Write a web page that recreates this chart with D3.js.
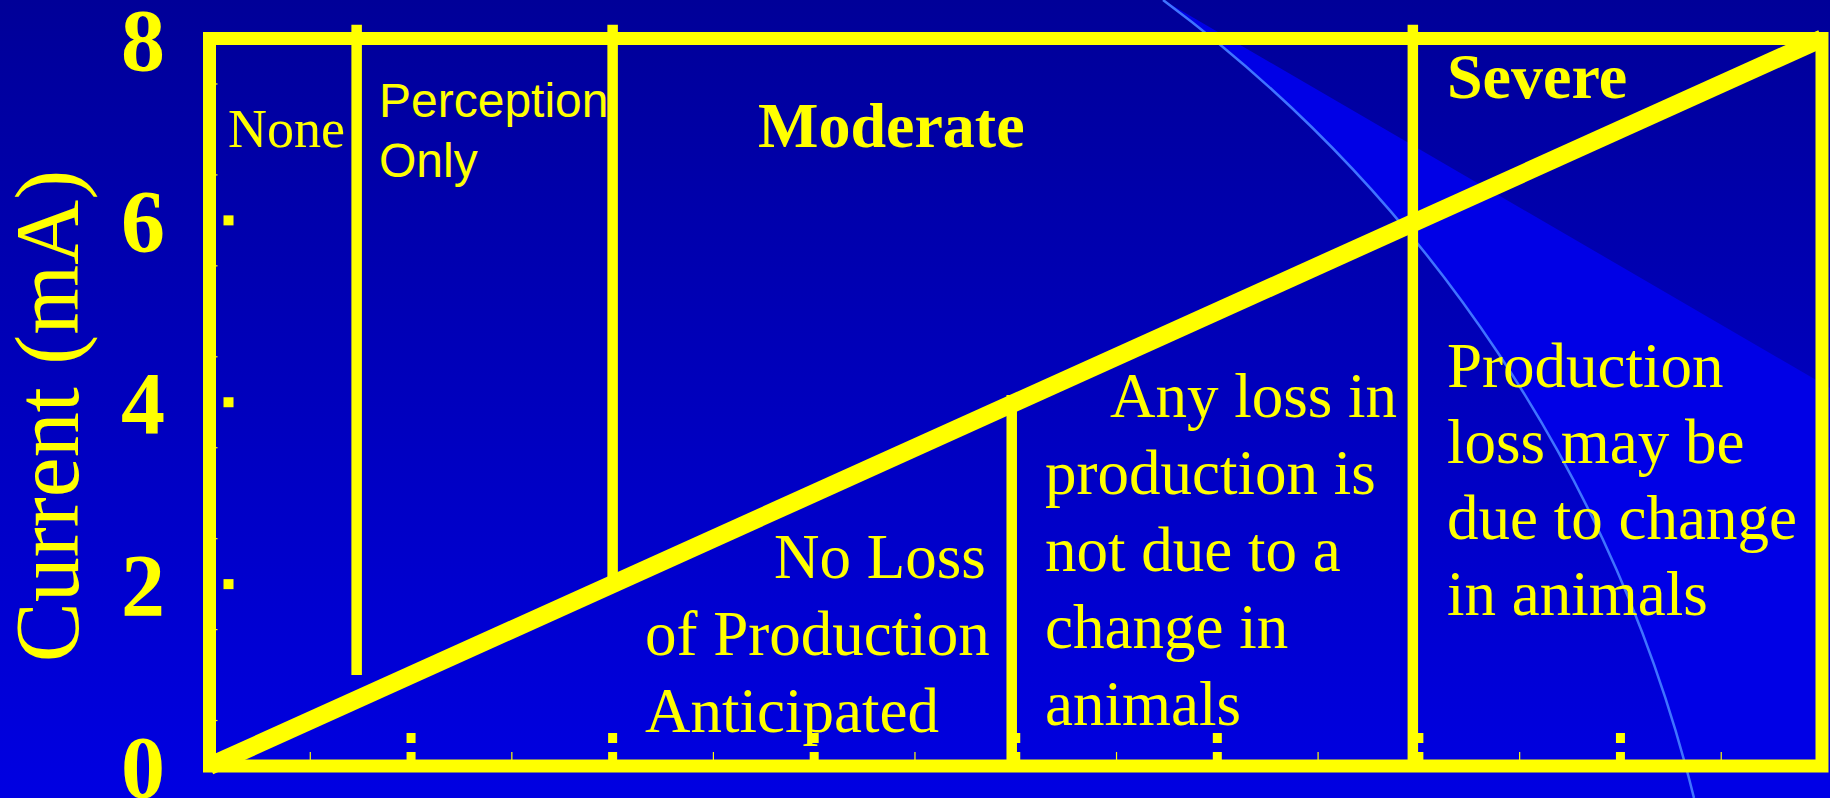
<!DOCTYPE html>
<html>
<head>
<meta charset="utf-8">
<script src="https://cdn.jsdelivr.net/npm/d3@7"></script>
<style>
  html, body { margin: 0; padding: 0; background: #0000a8; }
  svg { display: block; }
</style>
</head>
<body>
<div id="chart"></div>
<script>
// Values (chart units, current in mA)
var yTicks = [0, 2, 4, 6, 8];
var xMajorTicks = [1, 2, 3, 4, 5, 6, 7];
var xMinorTicks = [0.5, 1.5, 2.5, 3.5, 4.5, 5.5, 6.5, 7.5];
var yMinorTicks = [0.5, 1.5, 2.5, 3.5, 4.5, 5.5, 6.5, 7.5];
var yMarkTicks = [2, 4, 6];

// response line, from origin to the top right corner
var diagX = [0, 8];
var diagY = [0, 8];

// zone dividers: x position, bottom and top value
var dividerX = [0.73, 2, 3.98, 5.97];
var dividerBottom = [1, 2.05, 0, 0];
var dividerTop = [8.15, 8.15, 4.08, 8.15];

// zone labels
var noneLines = ["None"];
var perceptionLines = ["Perception", "Only"];
var moderateLines = ["Moderate"];
var severeLines = ["Severe"];
var noLossLines = ["No Loss", "of Production", "Anticipated"];
var anyLossLines = ["Any loss in", "production is", "not due to a", "change in", "animals"];
var prodLossLines = ["Production", "loss may be", "due to change", "in animals"];

var yTitle = "Current (mA)";

// Set the dimensions of the visual
var W = 1830, H = 798;
var yellow = "#ffff00";
var serif = "'Liberation Serif', 'Times New Roman', serif";
var sans = "'Liberation Sans', Arial, sans-serif";

var svg = d3.select("#chart").append("svg")
    .attr("width", W)
    .attr("height", H);

// Background: vertical gradient plus a brighter swept band
var defs = svg.append("defs");
var grad = defs.append("linearGradient")
    .attr("id", "bg")
    .attr("x1", 0).attr("y1", 0).attr("x2", 0).attr("y2", 1);
grad.append("stop").attr("offset", "0%").attr("stop-color", "#000098");
grad.append("stop").attr("offset", "100%").attr("stop-color", "#0000e2");

svg.append("rect")
    .attr("width", W).attr("height", H)
    .attr("fill", "url(#bg)");

svg.append("path")
    .attr("d", "M1163,0 L1830,388 L1830,798 L1694,798 A1419,1419 0 0,0 1163,0 Z")
    .attr("fill", "#0000e6");

svg.append("path")
    .attr("d", "M1163,0 A1419,1419 0 0,1 1694,798")
    .attr("fill", "none")
    .attr("stroke", "#3f73ff")
    .attr("stroke-width", 2.5);

// Scales
var x = d3.scaleLinear().domain([0, 8]).range([209.5, 1822]);
var y = d3.scaleLinear().domain([0, 8]).range([766, 38.5]);

// Minor ticks on the inner edge of the frame
svg.append("g")
    .selectAll("line")
    .data(xMinorTicks)
    .join("line")
    .attr("x1", function(d) { return x(d); })
    .attr("x2", function(d) { return x(d); })
    .attr("y1", y(0))
    .attr("y2", y(0) - 14)
    .attr("stroke", yellow)
    .attr("stroke-width", 1.2);

svg.append("g")
    .selectAll("line")
    .data(yMinorTicks)
    .join("line")
    .attr("x1", x(0))
    .attr("x2", x(0) + 8)
    .attr("y1", function(d) { return y(d); })
    .attr("y2", function(d) { return y(d); })
    .attr("stroke", yellow)
    .attr("stroke-width", 1.2);

// Major x ticks: dashed stubs rising from the bottom edge
svg.append("g")
    .selectAll("line")
    .data(xMajorTicks)
    .join("line")
    .attr("x1", function(d) { return x(d); })
    .attr("x2", function(d) { return x(d); })
    .attr("y1", y(0) - 33)
    .attr("y2", y(0))
    .attr("stroke", yellow)
    .attr("stroke-width", 9)
    .attr("stroke-dasharray", "10,9");

// Major y ticks: small squares inside the frame
svg.append("g")
    .selectAll("rect")
    .data(yMarkTicks)
    .join("rect")
    .attr("x", x(0) + 14)
    .attr("y", function(d) { return y(d) - 5; })
    .attr("width", 10)
    .attr("height", 10)
    .attr("fill", yellow);

// Frame
svg.append("rect")
    .attr("x", x(0))
    .attr("y", y(8))
    .attr("width", x(8) - x(0))
    .attr("height", y(0) - y(8))
    .attr("fill", "none")
    .attr("stroke", yellow)
    .attr("stroke-width", 13);

// Response line
svg.append("line")
    .attr("x1", x(diagX[0])).attr("y1", y(diagY[0]))
    .attr("x2", x(diagX[1])).attr("y2", y(diagY[1]))
    .attr("stroke", yellow)
    .attr("stroke-width", 18);

// Zone dividers
svg.append("g")
    .selectAll("line")
    .data(dividerX)
    .join("line")
    .attr("x1", function(d) { return x(d); })
    .attr("x2", function(d) { return x(d); })
    .attr("y1", function(d, i) { return y(dividerBottom[i]); })
    .attr("y2", function(d, i) { return y(dividerTop[i]); })
    .attr("stroke", yellow)
    .attr("stroke-width", 10.5);

// Y tick labels
svg.append("g")
    .selectAll("text")
    .data(yTicks)
    .join("text")
    .attr("x", 143)
    .attr("y", function(d) { return y(d) + 31; })
    .attr("text-anchor", "middle")
    .style("font-family", serif)
    .style("font-weight", "bold")
    .style("font-size", "88px")
    .attr("fill", yellow)
    .text(function(d) { return d; });

// Y axis label
svg.append("text")
    .attr("transform", "translate(78,416) rotate(-90)")
    .attr("text-anchor", "middle")
    .style("font-family", serif)
    .style("font-size", "90px")
    .attr("fill", yellow)
    .text(yTitle);

// Zone labels: each block gets a left edge, first baseline, line step,
// and optional per-line indents
function block(lines, x0, y0, step, font, size, weight, indents) {
    svg.append("g")
        .selectAll("text")
        .data(lines)
        .join("text")
        .attr("x", function(d, i) { return x0 + (indents ? indents[i] : 0); })
        .attr("y", function(d, i) { return y0 + i * step; })
        .style("font-family", font)
        .style("font-size", size + "px")
        .style("font-weight", weight)
        .attr("fill", yellow)
        .text(function(d) { return d; });
}

block(noneLines, 228, 147, 0, serif, 54, "normal");
block(perceptionLines, 379, 117, 60, sans, 48, "normal");
block(moderateLines, 758, 147, 0, serif, 64, "bold");
block(severeLines, 1447, 98, 0, serif, 64, "bold");
block(noLossLines, 645, 578, 77, serif, 63, "normal", [129, 0, 0]);
block(anyLossLines, 1045, 417, 77, serif, 63, "normal", [65, 0, 0, 0, 0]);
block(prodLossLines, 1447, 387, 76, serif, 63, "normal");
</script>
</body>
</html>
